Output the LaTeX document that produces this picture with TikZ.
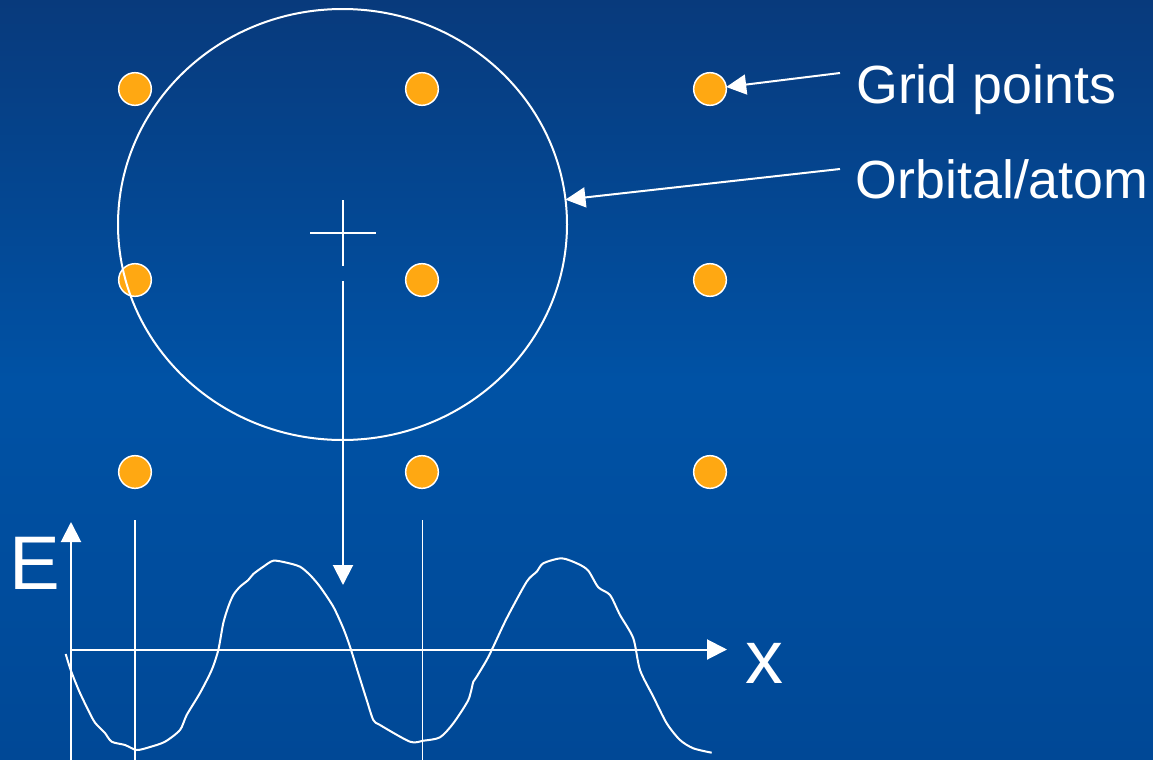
\documentclass[tikz,border=0pt]{standalone}
\usepackage{fontspec}
\setmainfont{Liberation Sans}
\usetikzlibrary{arrows.meta,shapes.geometric}
\definecolor{bgtop}{HTML}{083A7C}
\definecolor{bgmid}{HTML}{0052A5}
\definecolor{bgbot}{HTML}{004896}
\definecolor{dotor}{HTML}{FFA812}
\tikzset{
  gridpt/.style={circle,fill=dotor,draw=white,line width=1.1pt,minimum size=24.5pt,inner sep=0pt,outer sep=0pt},
  wline/.style={draw=white,line width=1.5pt},
  fineline/.style={draw=white,line width=1.3pt},
  arr/.style={-{Triangle[length=15pt,width=15pt]}},
  lbl/.style={text=white,inner sep=0pt,anchor=base west,font=\fontsize{40.3}{46}\selectfont},
  biglbl/.style={text=white,inner sep=0pt,anchor=base west,font=\fontsize{57}{66}\selectfont},
}
\begin{document}
\begin{tikzpicture}[x=0.75pt,y=-0.75pt]
\shade[top color=bgtop, bottom color=bgbot, middle color=bgmid] (0,0) rectangle (1153,760);
\useasboundingbox (0,0) rectangle (1153,760);

% grid points
\foreach \i/\x in {1/135,2/422,3/710}{
  \foreach \j/\y in {1/89,2/280,3/472}{
    \node[gridpt] (g\j\i) at (\x,\y) {};
  }
}

% orbital
\node[ellipse,draw=white,line width=1.5pt,minimum width=336.75pt,minimum height=323.25pt,inner sep=0pt,outer sep=0pt] (orb) at (342.5,224.5) {};

% cross at centre
\coordinate (ch1) at (310,233);
\coordinate (ch2) at (376,233);
\coordinate (cv1) at (343,200);
\coordinate (cv2) at (343,266);
\draw[wline] (ch1) -- (ch2);
\draw[wline] (cv1) -- (cv2);

% projection arrow
\coordinate (ps) at (343,281);
\coordinate (pe) at (343,585);
\draw[wline,arr] (ps) -- (pe);

% labels
\node[lbl] (lgrid) at (856,103) {Grid points};
\node[lbl] (lorb) at (855.5,198) {Orbital/atom};
\coordinate (gs) at (840,73);
\coordinate (os) at (840,169);
\draw[wline,arr] (gs) -- (g13);
\draw[wline,arr] (os) -- (orb);

% axes
\coordinate (ey0) at (71,760);
\coordinate (ey1) at (71,522);
\coordinate (ex0) at (71,649.5);
\coordinate (ex1) at (727,649.5);
\draw[wline,arr] (ey0) -- (ey1);
\draw[wline,arr] (ex0) -- (ex1);
\node[biglbl] (le) at (9,589) {E};
\node[biglbl] (lx) at (745,683) {x};

% vertical grid lines
\coordinate (v1a) at (135,520);
\coordinate (v1b) at (135,760);
\coordinate (v2a) at (422.5,520);
\coordinate (v2b) at (422.5,760);
\draw[fineline] (v1a) -- (v1b);
\draw[fineline] (v2a) -- (v2b);

% potential curve
\draw[wline,line join=round] plot[smooth,tension=0.45] coordinates {
 (65.7,654) (70.7,670) (80,693) (93.3,720) (100,728) (105,733) (111.7,741.7)
 (125,745) (136.7,750) (150,747) (165,741.7) (180,730) (186.7,715) (200,693)
 (211.7,670) (218.3,650) (223.3,623) (228.3,606.7) (233.3,595) (240,586.7)
 (248.3,580) (253.3,574) (263.3,566.7) (273.3,560.7) (286.7,562.7) (300,566.7)
 (310,575) (320,586.7) (333.3,606.7) (343.3,628.3) (350,646.7) (358.3,673.3)
 (366.7,700) (373.3,720) (380,725) (410,741.7) (423.3,740.7) (440,737.3)
 (453.3,723.3) (468.3,700) (473.3,681.7) (476.7,676.7) (486.7,660) (493.3,646.7)
 (506.7,618.3) (526.7,581.7) (536.7,571.7) (543.3,563.3) (561.7,558.3) (578.3,564)
 (588.3,570.7) (598.3,587.3) (610,595) (620,615) (633.3,638.3) (640,670)
 (653.3,696.7) (666.7,723.3) (680,740) (693.3,748.3) (711.7,752.7)
};
\end{tikzpicture}
\end{document}
